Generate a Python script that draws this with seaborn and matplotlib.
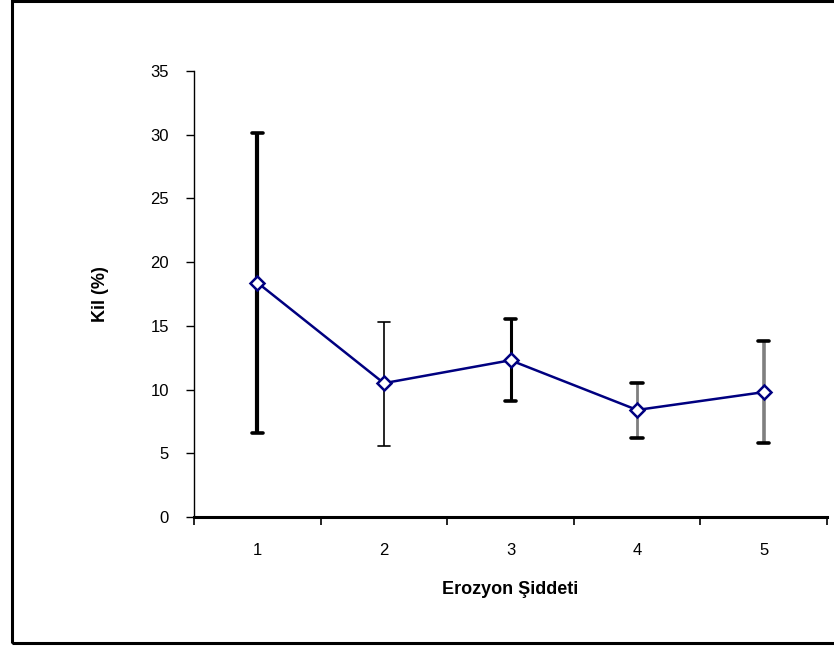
import matplotlib
matplotlib.use("Agg")
import matplotlib.pyplot as plt
import seaborn as sns
import numpy as np
import pandas as pd
from matplotlib.patches import Rectangle

# -------------- Data

erozyon = [1, 2, 3, 4, 5]
kil_mean = [18.4, 10.5, 12.3, 8.4, 9.8]
err_upper = [30.1, 15.3, 15.5, 10.5, 13.8]
err_lower = [6.6, 5.6, 9.1, 6.2, 5.8]

# error bar looks differ per point in the original
bar_colors = ['black', 'black', 'black', '#7f7f7f', '#7f7f7f']
bar_widths = [3.0, 1.2, 2.2, 2.0, 2.6]

df = pd.DataFrame({'Erozyon': erozyon, 'Kil': kil_mean})

# -------------- Plot

sns.set_style('white', {'text.color': 'black', 'axes.labelcolor': 'black',
                        'xtick.color': 'black', 'ytick.color': 'black'})
plt.rcParams['font.family'] = ['Liberation Sans', 'DejaVu Sans']

fig = plt.figure(figsize=(8.34, 6.46), dpi=100)
ax = fig.add_axes([194 / 834, 1 - 517 / 646, (827 - 194) / 834, (517 - 71) / 646])

for i, x in enumerate(erozyon):
    ax.plot([x, x], [err_lower[i], err_upper[i]], color=bar_colors[i],
            lw=bar_widths[i], solid_capstyle='butt', zorder=2)
    cap_lw = 1.2 if i == 1 else 2.6
    ax.plot([x - 0.045, x + 0.045], [err_upper[i]] * 2, color='black', lw=cap_lw, zorder=2)
    ax.plot([x - 0.045, x + 0.045], [err_lower[i]] * 2, color='black', lw=cap_lw, zorder=2)

sns.lineplot(data=df, x='Erozyon', y='Kil', ax=ax, color='#000080', lw=1.8,
             marker='D', markersize=7, markerfacecolor='white',
             markeredgecolor='#000080', markeredgewidth=1.8, zorder=3)

ax.set_xlim(0.5, 5.5)
ax.set_ylim(0, 35)
ax.set_yticks(np.arange(0, 36, 5))
ax.set_xticks(erozyon)
ax.set_xticks(np.arange(0.5, 5.6, 1), minor=True)
ax.tick_params(axis='x', which='major', length=0, pad=19, labelsize=12)
ax.tick_params(axis='x', which='minor', length=6, width=1.2, direction='out', bottom=True)
ax.tick_params(axis='y', length=6, width=1, direction='out', left=True, pad=12, labelsize=12)

for s in ['top', 'right']:
    ax.spines[s].set_visible(False)
ax.spines['left'].set_linewidth(1.0)
ax.spines['bottom'].set_linewidth(2.2)
ax.spines['left'].set_color('black')
ax.spines['bottom'].set_color('black')

ax.set_xlabel('Erozyon Şiddeti', fontsize=13, fontweight='bold', labelpad=16)
ax.set_ylabel('Kil (%)', fontsize=13, fontweight='bold', labelpad=30)

# frame around the chart
fig.add_artist(Rectangle((12 / 834, 3 / 646), 1.0, 1 - 4 / 646, transform=fig.transFigure,
                         fill=False, edgecolor='black', lw=2.2))

fig.savefig('out.png', dpi=100)
